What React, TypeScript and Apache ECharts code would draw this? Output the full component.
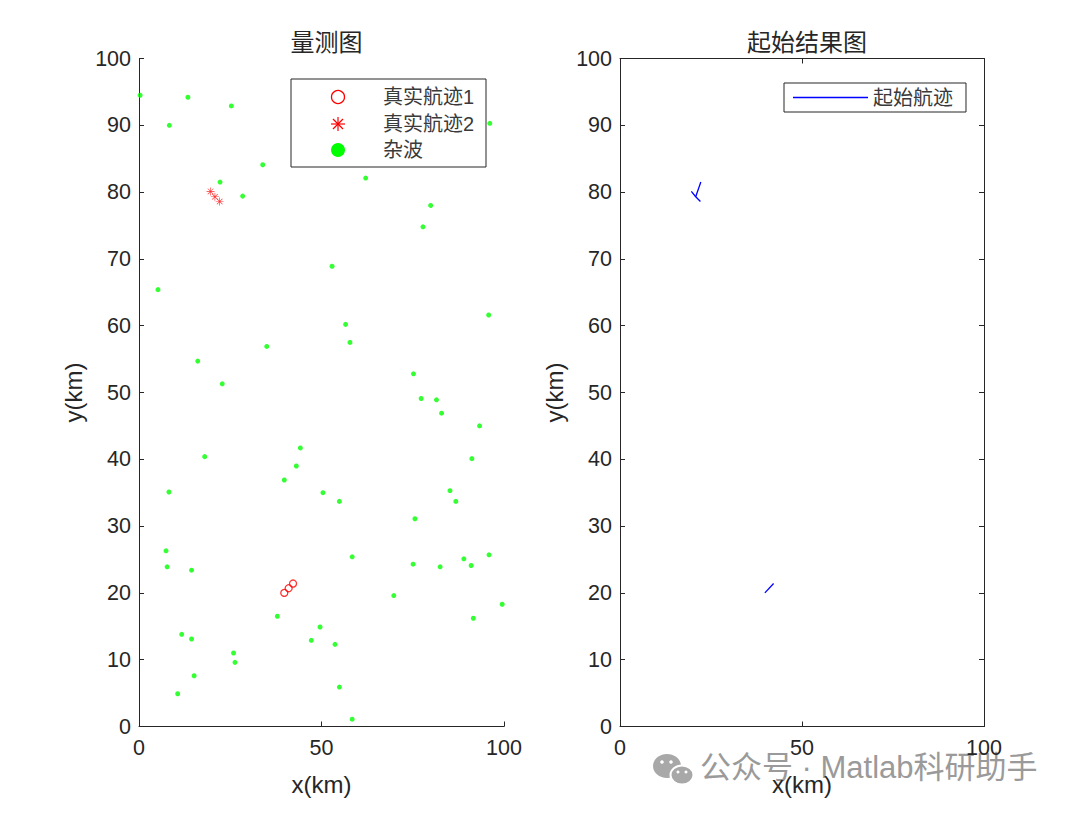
import React, { useEffect, useRef } from "react";
import * as echarts from "echarts";

// Clutter measurements (km)
const clutterX = [0.3, 13.4, 25.3, 8.3, 96.1, 33.9, 62.1, 22.2, 28.4, 79.9, 77.8, 52.9, 5.2, 95.8, 56.6, 57.8, 35.0, 16.1, 75.2, 22.8, 77.3, 81.5, 82.9, 93.3, 44.2, 18.0, 43.1, 91.2, 39.8, 8.2, 50.4, 54.9, 85.2, 86.8, 75.6, 7.4, 7.7, 14.4, 58.4, 75.1, 82.5, 89.0, 91.0, 95.9, 69.8, 99.5, 37.9, 91.6, 11.7, 14.4, 49.6, 47.2, 53.7, 25.9, 26.3, 15.1, 10.6, 54.9, 58.4];
const clutterY = [94.5, 94.2, 92.9, 90.0, 90.3, 84.1, 82.1, 81.5, 79.4, 78.0, 74.8, 68.9, 65.4, 61.6, 60.2, 57.5, 56.9, 54.7, 52.8, 51.3, 49.1, 48.9, 46.9, 45.0, 41.7, 40.4, 39.0, 40.1, 36.9, 35.1, 35.0, 33.7, 35.3, 33.7, 31.1, 26.3, 23.9, 23.4, 25.4, 24.3, 23.9, 25.1, 24.1, 25.7, 19.6, 18.3, 16.5, 16.2, 13.8, 13.1, 14.9, 12.9, 12.3, 11.0, 9.6, 7.6, 4.9, 5.9, 1.1];

// True tracks
const track1X = [39.8, 41.0, 42.2];
const track1Y = [20.0, 20.7, 21.4];
const track2X = [19.6, 20.8, 22.1];
const track2Y = [80.1, 79.3, 78.6];

// Initiated track segments
const initSeg1X = [39.8, 42.2];
const initSeg1Y = [20.0, 21.4];
const initSeg2X = [19.6, 20.8, 22.1];
const initSeg2Y = [80.1, 79.3, 78.6];
const initSeg3X = [20.8, 22.2];
const initSeg3Y = [79.3, 81.5];

const yTicks = [0, 10, 20, 30, 40, 50, 60, 70, 80, 90, 100];
const xTicks = [0, 50, 100];

const titles = ["量测图", "起始结果图"];
const legendLeft = ["真实航迹1", "真实航迹2", "杂波"];
const legendRight = ["起始航迹"];
const watermark = "公众号 · Matlab科研助手";

const zip = (xs: number[], ys: number[]) => xs.map((x, i) => [x, ys[i]]);

const ASTERISK =
  "path://M46,0L54,0L54,100L46,100Z M0,46L100,46L100,54L0,54Z M12.17,17.83L17.83,12.17L87.83,82.17L82.17,87.83Z M82.17,12.17L87.83,17.83L17.83,87.83L12.17,82.17Z";

const FONT = "'Liberation Sans', 'Noto Sans CJK SC', sans-serif";
const AX = "#262626";
const LEG_TXT = "#3a3a3a";

export default function App() {
  const ref = useRef<HTMLDivElement>(null);
  useEffect(() => {
    if (!ref.current) return;
    const chart = echarts.init(ref.current, undefined, { renderer: "svg" });
    const grids = [
      { left: 139, top: 58.5, width: 365, height: 668 },
      { left: 620, top: 58.5, width: 364, height: 668 },
    ];
    const labelStyle = { fontSize: 21.5, color: AX, fontFamily: FONT };
    const mkX = (gi: number, extra: any = {}) => ({
      type: "value",
      gridIndex: gi,
      min: 0,
      max: 100,
      interval: 50,
      name: "x(km)",
      nameLocation: "middle",
      nameGap: 46,
      nameTextStyle: { fontSize: 24, color: AX, fontFamily: FONT },
      axisLine: { show: true, onZero: false, lineStyle: { color: AX, width: 1 } },
      axisTick: { show: true, inside: true, length: 5, lineStyle: { color: AX } },
      axisLabel: { ...labelStyle, margin: 11, formatter: (v: number) => (xTicks.includes(v) ? String(v) : "") },
      splitLine: { show: false },
      ...extra,
    });
    const mkY = (gi: number, extra: any = {}) => ({
      type: "value",
      gridIndex: gi,
      min: 0,
      max: 100,
      interval: 10,
      name: "y(km)",
      nameLocation: "middle",
      nameGap: 54,
      nameTextStyle: { fontSize: 24, color: AX, fontFamily: FONT },
      axisLine: { show: true, onZero: false, lineStyle: { color: AX, width: 1 } },
      axisTick: { show: true, inside: true, length: 5, lineStyle: { color: AX } },
      axisLabel: { ...labelStyle, margin: 8, formatter: (v: number) => (yTicks.includes(v) ? String(v) : "") },
      splitLine: { show: false },
      ...extra,
    });
    const boxExtra = {
      name: "",
      axisLabel: { show: false },
    };
    const ly = [97, 124, 150];
    const option: any = {
      animation: false,
      backgroundColor: "#ffffff",
      textStyle: { fontFamily: FONT },
      title: [
        { text: titles[0], left: 321.5, top: 25, textAlign: "center", textStyle: { fontSize: 24, fontWeight: "normal", color: AX, fontFamily: FONT } },
        { text: titles[1], left: 802, top: 25, textAlign: "center", textStyle: { fontSize: 24, fontWeight: "normal", color: AX, fontFamily: FONT } },
      ],
      grid: grids,
      xAxis: [mkX(0), mkX(1), mkX(1, { ...boxExtra, position: "top" })],
      yAxis: [mkY(0), mkY(1), mkY(1, { ...boxExtra, position: "right" })],
      legend: [
        {
          orient: "vertical",
          left: 784,
          top: 83,
          itemWidth: 75,
          itemHeight: 1.3,
          padding: [4.5, 13, 4.5, 9],
          borderColor: AX,
          borderWidth: 1,
          backgroundColor: "#fff",
          textStyle: { fontSize: 20, color: LEG_TXT, fontFamily: FONT },
          data: [{ name: legendRight[0], icon: "rect", itemStyle: { color: "#0000ff" } }],
        },
      ],
      series: [
        {
          name: legendLeft[2],
          type: "scatter",
          xAxisIndex: 0,
          yAxisIndex: 0,
          symbol: "circle",
          symbolSize: 5,
          itemStyle: { color: "#00ff00" },
          data: zip(clutterX, clutterY),
        },
        {
          name: legendLeft[0],
          type: "scatter",
          xAxisIndex: 0,
          yAxisIndex: 0,
          symbol: "circle",
          symbolSize: 7,
          itemStyle: { color: "rgba(0,0,0,0)", borderColor: "#ff0000", borderWidth: 1.3 },
          data: zip(track1X, track1Y),
        },
        {
          name: legendLeft[1],
          type: "scatter",
          xAxisIndex: 0,
          yAxisIndex: 0,
          symbol: ASTERISK,
          symbolSize: 8,
          itemStyle: { color: "#ff0000" },
          data: zip(track2X, track2Y),
        },
        ...[
          [initSeg1X, initSeg1Y],
          [initSeg2X, initSeg2Y],
          [initSeg3X, initSeg3Y],
        ].map(([xs, ys]) => ({
          name: legendRight[0],
          type: "line",
          xAxisIndex: 1,
          yAxisIndex: 1,
          symbol: "none",
          showSymbol: false,
          lineStyle: { color: "#0000ff", width: 1.3 },
          itemStyle: { color: "#0000ff" },
          data: zip(xs, ys),
        })),
      ],
      graphic: [
        // left legend (manual, MATLAB-style layout)
        { type: "rect", z: 100, shape: { x: 291, y: 79, width: 195, height: 88 }, style: { fill: "#fff", stroke: AX, lineWidth: 1 } },
        { type: "circle", z: 101, shape: { cx: 338, cy: ly[0], r: 6.5 }, style: { fill: "none", stroke: "#ff0000", lineWidth: 1.3 } },
        { type: "line", z: 101, shape: { x1: 331, y1: ly[1], x2: 345, y2: ly[1] }, style: { stroke: "#ff0000", lineWidth: 1.2 } },
        { type: "line", z: 101, shape: { x1: 338, y1: ly[1] - 7, x2: 338, y2: ly[1] + 7 }, style: { stroke: "#ff0000", lineWidth: 1.2 } },
        { type: "line", z: 101, shape: { x1: 333, y1: ly[1] - 5, x2: 343, y2: ly[1] + 5 }, style: { stroke: "#ff0000", lineWidth: 1.2 } },
        { type: "line", z: 101, shape: { x1: 343, y1: ly[1] - 5, x2: 333, y2: ly[1] + 5 }, style: { stroke: "#ff0000", lineWidth: 1.2 } },
        { type: "circle", z: 101, shape: { cx: 338, cy: ly[2], r: 7 }, style: { fill: "#00ff00" } },
        ...legendLeft.map((t, i) => ({
          type: "text",
          z: 101,
          x: 383,
          y: ly[i],
          style: { text: t, fontSize: 20, fill: LEG_TXT, fontFamily: FONT, verticalAlign: "middle", align: "left" },
        })),
        // watermark
        { type: "ellipse", shape: { cx: 667, cy: 766, rx: 14, ry: 12 }, style: { fill: "#a8a8a8" } },
        { type: "ellipse", shape: { cx: 682, cy: 775, rx: 11.5, ry: 9.5 }, style: { fill: "#a8a8a8", stroke: "#fff", lineWidth: 2 } },
        { type: "circle", shape: { cx: 662, cy: 762, r: 1.8 }, style: { fill: "#fff" } },
        { type: "circle", shape: { cx: 671, cy: 762, r: 1.8 }, style: { fill: "#fff" } },
        { type: "circle", shape: { cx: 678, cy: 772, r: 1.5 }, style: { fill: "#fff" } },
        { type: "circle", shape: { cx: 686, cy: 772, r: 1.5 }, style: { fill: "#fff" } },
        {
          type: "text",
          left: 700,
          top: 752,
          style: { text: watermark, fontSize: 31, fill: "#9a9a9a", fontFamily: FONT },
        },
      ],
    };
    chart.setOption(option);
    return () => chart.dispose();
  }, []);
  return <div ref={ref} style={{ position: "fixed", left: 0, top: 0, width: 1080, height: 813 }} />;
}
